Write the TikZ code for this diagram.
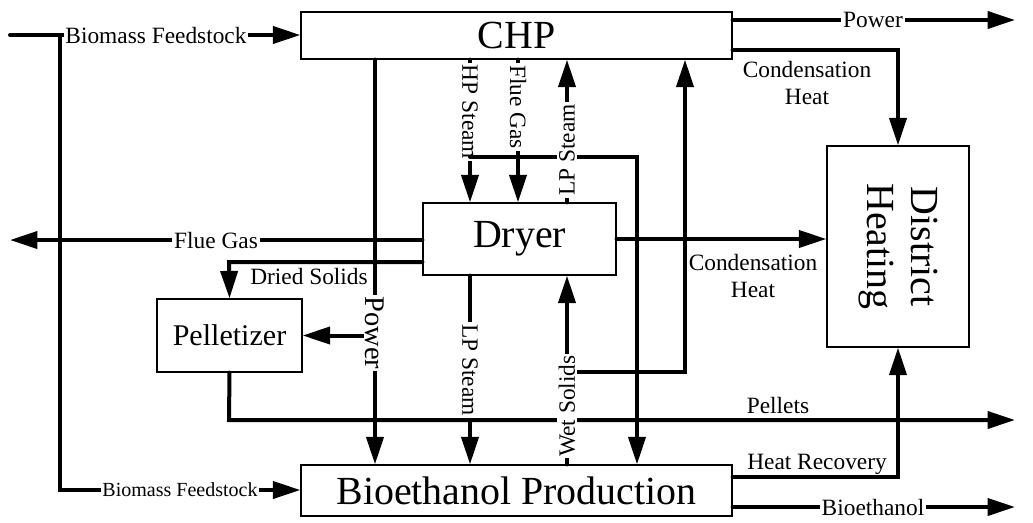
\documentclass[tikz,border=0pt]{standalone}
\usepackage{fontspec}
\setmainfont{Liberation Serif}
\usetikzlibrary{arrows.meta, positioning}

\begin{document}
\begin{tikzpicture}[
    x=0.02cm, y=-0.02cm,
    unit/.style  = {draw, line width=0.7pt, fill=white, inner sep=0pt, font=\fontsize{22.7}{25}\selectfont},
    flow/.style  = {line width=0.08cm, line cap=round, -{Triangle[length=0.55cm, width=0.34cm]}},
    lab/.style   = {font=\fontsize{13.3}{15.3}\selectfont, fill=white, inner sep=1pt},
    note/.style  = {font=\fontsize{13.3}{15.3}\selectfont, align=center, inner sep=0pt}
  ]
  \useasboundingbox (0,0) rectangle (1033,522);

  % process units (not to scale)
  \node[unit, minimum width=8.62cm, minimum height=0.94cm] (chp) at (516.5,35.5) {CHP};
  \node[unit, minimum width=3.86cm, minimum height=1.44cm] (dry) at (519.5,239) {Dryer};
  \node[unit, minimum width=2.9cm, minimum height=1.46cm, font=\fontsize{17.1}{19}\selectfont] (pel) at (229.5,335.5) {Pelletizer};
  \node[unit, minimum width=8.62cm, minimum height=1.02cm] (bio) at (516.5,490.5) {Bioethanol Production};
  \node[unit, minimum width=2.84cm, minimum height=4.02cm] (dh) at (898,246.5)
    {\rotatebox{-90}{\begin{tabular}{@{}c@{}}District\\Heating\end{tabular}}};

  % branch points
  \coordinate (in)    at (10,35);
  \coordinate (split) at (60,35);
  \coordinate (bend)  at (60,490);
  \coordinate (pwout) at (1015,20);
  \coordinate (cond)  at (898,50);
  \coordinate (pd)    at (375,0);
  \coordinate (hp)    at (470,0);
  \coordinate (fg)    at (518,0);
  \coordinate (lp)    at (567,0);
  \coordinate (sb)    at (637,157);
  \coordinate (wb)    at (685,372);
  \coordinate (fgout) at (10,240);
  \coordinate (ds)    at (229,262);
  \coordinate (pl)    at (229,420);
  \coordinate (plout) at (1015,420);
  \coordinate (hr)    at (898,477);
  \coordinate (beout) at (1015,507);

  % feedstock
  \draw[flow] (in) -- (in -| chp.west);
  \draw[flow] (split) -- (bend) -- (bend -| bio.west);

  % CHP outputs
  \draw[flow] (chp.east |- pwout) -- (pwout);
  \draw[flow] (chp.east |- cond) -- (cond) -- (dh.north);
  \draw[flow] (chp.south -| pd) -- (bio.north -| pd);
  \draw[flow] (pd |- pel.east) -- (pel.east);
  \draw[flow] (chp.south -| hp) -- (dry.north -| hp);
  \draw[flow] (chp.south -| fg) -- (dry.north -| fg);
  \node[lab, rotate=-90] at (470,112) {HP Steam};
  \draw[flow] (hp |- sb) -- (sb) -- (bio.north -| sb);

  % dryer
  \draw[flow] (dry.north -| lp) -- (chp.south -| lp);
  \draw[flow] (dry.east) -- (dry.east -| dh.west);
  \draw[flow] (dry.west |- fgout) -- (fgout);
  \draw[flow] (dry.west |- ds) -- (ds) -- (pel.north);
  \draw[flow] (dry.south -| hp) -- (bio.north -| hp);

  % pelletizer and bioethanol
  \draw[flow] (pel.south) -- (pl) -- (plout);
  \draw[flow] (bio.north -| lp) -- (dry.south -| lp);
  \draw[flow] (lp |- wb) -- (wb) -- (chp.south -| wb);
  \draw[flow] (bio.east |- hr) -- (hr) -- (dh.south);
  \draw[flow] (bio.east |- beout) -- (beout);

  % stream labels
  \node[lab] at (156,35) {Biomass Feedstock};
  \node[lab, font=\fontsize{11.4}{13}\selectfont] at (180,490) {Biomass Feedstock};
  \node[lab] at (873,20) {Power};
  \node[note] at (807,83) {Condensation\\Heat};
  \node[lab, rotate=-90] at (518,107) {Flue Gas};
  \node[lab, rotate=90] at (567,150) {LP Steam};
  \node[lab] at (216,240) {Flue Gas};
  \node[note] at (309,276) {Dried Solids};
  \node[lab, rotate=-90, font=\fontsize{16.2}{18}\selectfont] at (375,333) {Power};
  \node[lab, rotate=-90] at (470,370) {LP Steam};
  \node[lab, rotate=90] at (567,406) {Wet Solids};
  \node[note] at (753,276) {Condensation\\Heat};
  \node[note] at (778,405) {Pellets};
  \node[note] at (817,464) {Heat Recovery};
  \node[lab] at (873,507) {Bioethanol};
\end{tikzpicture}
\end{document}
